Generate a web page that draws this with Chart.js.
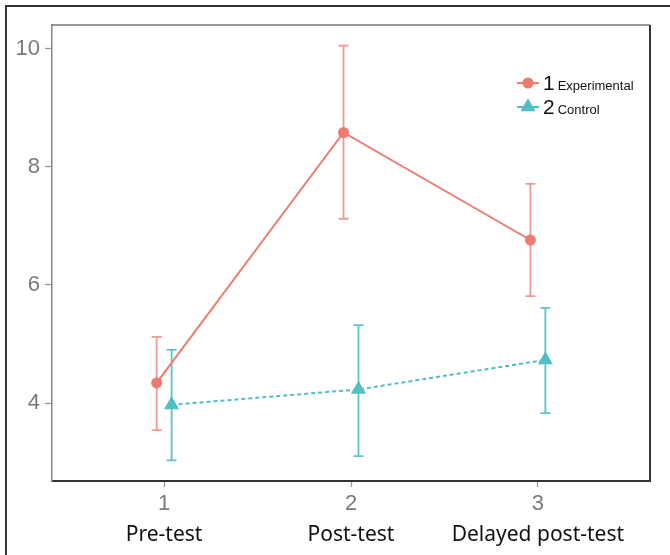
<!DOCTYPE html>
<html>
<head>
<meta charset="utf-8">
<script src="https://cdn.jsdelivr.net/npm/chart.js@4.4.1/dist/chart.umd.min.js"></script>
<style>
  html, body { margin: 0; padding: 0; background: #fff; }
  #wrap { position: relative; width: 670px; height: 555px; overflow: hidden; }
  #frame { position: absolute; left: 5px; top: 5px; width: 700px; height: 600px;
           border-left: 2px solid #333; border-top: 2px solid #333; }
  canvas { position: absolute; left: 0; top: 0; }
</style>
</head>
<body>
<div id="wrap">
  <div id="frame"></div>
  <canvas id="meansChart" width="670" height="555"></canvas>
</div>
<script>
// data
const timePoints = [1, 2, 3];
const timeLabels = ['Pre-test', 'Post-test', 'Delayed post-test'];
const yTicks = [4, 6, 8, 10];
const groupNums = ['1', '2'];
const groupNames = ['Experimental', 'Control'];

const expMean = [4.34, 8.58, 6.76];
const expLow = [3.54, 7.12, 5.81];
const expHigh = [5.12, 10.05, 7.71];

const ctrlMean = [3.97, 4.23, 4.73];
const ctrlLow = [3.03, 3.10, 3.83];
const ctrlHigh = [4.90, 5.32, 5.61];

// small horizontal dodge between the groups
const dodge = 0.04;

const RED = '#EC7B70';
const TEAL = '#4FBFC5';

function points(means, shift) {
  return timePoints.map((t, i) => ({ x: t + shift, y: means[i] }));
}

// whiskers with caps, drawn under the points
const errorBars = {
  id: 'errorBars',
  beforeDatasetsDraw(chart) {
    const { ctx, scales: { x, y } } = chart;
    chart.data.datasets.forEach(ds => {
      ctx.save();
      ctx.strokeStyle = ds.errColor;
      ctx.lineWidth = 1.8;
      ds.data.forEach((p, i) => {
        const px = x.getPixelForValue(p.x);
        const top = y.getPixelForValue(ds.high[i]);
        const bot = y.getPixelForValue(ds.low[i]);
        ctx.beginPath();
        ctx.moveTo(px, top); ctx.lineTo(px, bot);
        ctx.moveTo(px - 5, top); ctx.lineTo(px + 5, top);
        ctx.moveTo(px - 5, bot); ctx.lineTo(px + 5, bot);
        ctx.stroke();
      });
      ctx.restore();
    });
  }
};

// top and right edges of the panel
const panelBox = {
  id: 'panelBox',
  afterDraw(chart) {
    const { ctx, chartArea: a } = chart;
    ctx.save();
    ctx.strokeStyle = '#777';
    ctx.lineWidth = 1.5;
    ctx.beginPath();
    ctx.moveTo(a.left, a.top); ctx.lineTo(a.right, a.top);
    ctx.stroke();
    ctx.strokeStyle = '#333';
    ctx.lineWidth = 2;
    ctx.beginPath();
    ctx.moveTo(a.right, a.top); ctx.lineTo(a.right, a.bottom + 1);
    ctx.stroke();
    ctx.restore();
  }
};

// legend inside the panel: big number + small name
const insideLegend = {
  id: 'insideLegend',
  afterDraw(chart) {
    const { ctx, chartArea: a } = chart;
    const lx = a.right - 122;
    chart.data.datasets.forEach((ds, i) => {
      const cy = a.top + 58 + i * 24;
      ctx.save();
      ctx.strokeStyle = ds.borderColor;
      ctx.lineWidth = 2;
      ctx.beginPath();
      ctx.moveTo(lx - 11, cy); ctx.lineTo(lx + 11, cy);
      ctx.stroke();
      ctx.fillStyle = ds.pointBackgroundColor;
      Chart.helpers.drawPoint(ctx, {
        pointStyle: ds.pointStyle, radius: ds.pointRadius, rotation: 0, borderWidth: 0
      }, lx, cy);
      ctx.fillStyle = '#111';
      ctx.textBaseline = 'alphabetic';
      ctx.font = '21px "Liberation Sans", Arial, sans-serif';
      ctx.fillText(groupNums[i], lx + 15, cy + 7);
      const w = ctx.measureText(groupNums[i]).width;
      ctx.font = '13px "Liberation Sans", Arial, sans-serif';
      ctx.fillText(groupNames[i], lx + 16 + w + 2, cy + 7);
      ctx.restore();
    });
  }
};

const tickFont = { size: 22, family: '"Liberation Sans", Arial, sans-serif' };

new Chart(document.getElementById('meansChart').getContext('2d'), {
  type: 'line',
  data: {
    datasets: [
      {
        label: groupNames[0],
        data: points(expMean, -dodge),
        low: expLow, high: expHigh,
        errColor: '#F09A92',
        borderColor: RED,
        borderWidth: 2,
        pointStyle: 'circle',
        pointRadius: 5.5,
        pointBackgroundColor: RED,
        pointBorderWidth: 0
      },
      {
        label: groupNames[1],
        data: points(ctrlMean, dodge),
        low: ctrlLow, high: ctrlHigh,
        errColor: '#5CC4CA',
        borderColor: TEAL,
        borderWidth: 2,
        borderDash: [4, 3],
        pointStyle: 'triangle',
        pointRadius: 8.7,
        pointBackgroundColor: TEAL,
        pointBorderWidth: 0
      }
    ]
  },
  options: {
    responsive: false,
    animation: false,
    devicePixelRatio: 1,
    layout: { padding: { top: 25, right: 20, left: 0, bottom: 0 } },
    plugins: { legend: { display: false }, tooltip: { enabled: false } },
    scales: {
      x: {
        type: 'linear', position: 'bottom', weight: 0,
        min: 0.4, max: 3.6,
        afterBuildTicks: s => { s.ticks = timePoints.map(v => ({ value: v })); },
        afterFit: s => { s.height = 30; },
        ticks: { color: '#7a7a7a', font: tickFont, padding: 4, autoSkip: false, maxRotation: 0 },
        grid: { drawOnChartArea: false, tickLength: 6, color: '#999', tickWidth: 1.3 },
        border: { color: '#333', width: 2 }
      },
      x2: {
        type: 'linear', position: 'bottom', weight: 1,
        min: 0.4, max: 3.6,
        afterBuildTicks: s => { s.ticks = timePoints.map(v => ({ value: v })); },
        afterFit: s => { s.height = 44; },
        ticks: {
          color: '#111', padding: 3, autoSkip: false, maxRotation: 0,
          font: { size: 21, family: '"Noto Sans", sans-serif' },
          callback: v => timeLabels[timePoints.indexOf(v)]
        },
        grid: { display: false },
        border: { display: false }
      },
      y: {
        type: 'linear', min: 2.68, max: 10.4,
        afterBuildTicks: s => { s.ticks = yTicks.map(v => ({ value: v })); },
        afterFit: s => { s.width = 52; },
        ticks: { color: '#7a7a7a', font: tickFont, padding: 5 },
        grid: { drawOnChartArea: false, tickLength: 7, color: '#999', tickWidth: 1.3 },
        border: { color: '#888', width: 1.5 }
      }
    }
  },
  plugins: [errorBars, panelBox, insideLegend]
});
</script>
</body>
</html>
